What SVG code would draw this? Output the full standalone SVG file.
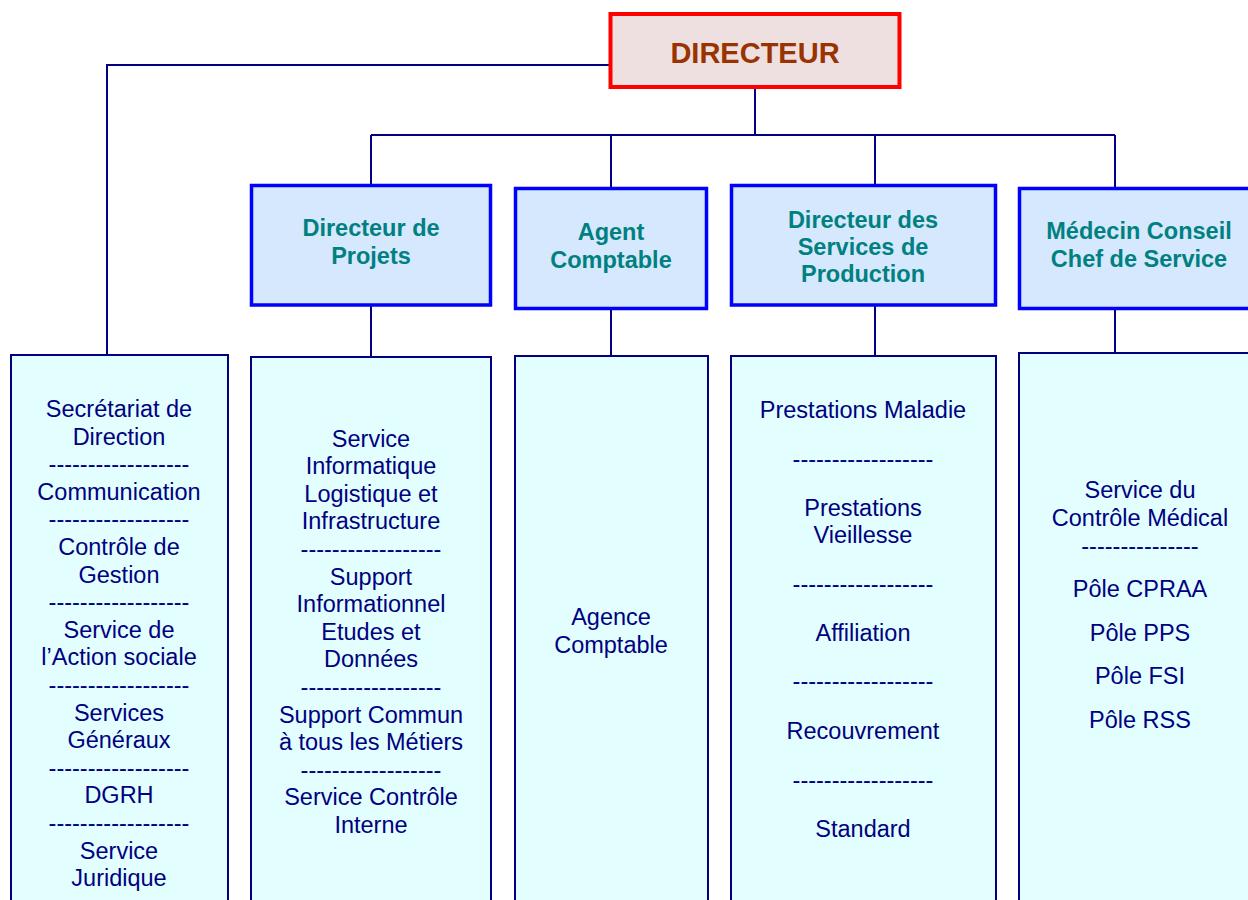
<svg xmlns="http://www.w3.org/2000/svg" width="1248" height="900" viewBox="0 0 1248 900">
<style>
.conn{stroke:#000080;stroke-width:2;fill:none}
.head{fill:#D5E8FD;stroke:#0000FF;stroke-width:3.5}
.body{fill:#E2FEFE;stroke:#000080;stroke-width:2}
.ht{font-family:"Liberation Sans",Arial,sans-serif;font-weight:bold;font-size:23.5px;fill:#008080;text-anchor:middle}
.bt{font-family:"Liberation Sans",Arial,sans-serif;font-size:23.5px;fill:#000080;text-anchor:middle}
</style>
<rect width="1248" height="900" fill="#FFFFFF"/>
<g id="connectors">
<polyline class="conn" points="610,65 107,65 107,355"/>
<line class="conn" x1="755" y1="88" x2="755" y2="135"/>
<line class="conn" x1="371" y1="135" x2="1115" y2="135"/>
<line class="conn" x1="371" y1="135" x2="371" y2="184"/>
<line class="conn" x1="611" y1="135" x2="611" y2="187"/>
<line class="conn" x1="875" y1="135" x2="875" y2="184"/>
<line class="conn" x1="1115" y1="135" x2="1115" y2="187"/>
<line class="conn" x1="371" y1="306" x2="371" y2="357"/>
<line class="conn" x1="611" y1="310" x2="611" y2="356"/>
<line class="conn" x1="875" y1="306" x2="875" y2="356"/>
<line class="conn" x1="1115" y1="310" x2="1115" y2="353"/>
</g>
<g id="directeur">
<rect x="610.5" y="14" width="289" height="73" fill="#EEE0E0" stroke="#FF0000" stroke-width="4"/>
<text x="755" y="62.5" font-family="'Liberation Sans',Arial,sans-serif" font-weight="bold" font-size="29" fill="#993300" text-anchor="middle">DIRECTEUR</text>
</g>
<g id="dir-projets">
<rect class="head" x="251.5" y="185.5" width="239" height="119.5"/>
<text class="ht" x="371" y="235.5">Directeur de</text>
<text class="ht" x="371" y="263.5">Projets</text>
</g>
<g id="agent-comptable">
<rect class="head" x="515.5" y="188.5" width="191" height="120"/>
<text class="ht" x="611" y="239.5">Agent</text>
<text class="ht" x="611" y="267.5">Comptable</text>
</g>
<g id="dir-production">
<rect class="head" x="731.5" y="185.5" width="264" height="119.5"/>
<text class="ht" x="863" y="227.5">Directeur des</text>
<text class="ht" x="863" y="254.5">Services de</text>
<text class="ht" x="863" y="281.5">Production</text>
</g>
<g id="medecin-conseil">
<rect class="head" x="1019.5" y="188.5" width="242" height="120"/>
<text class="ht" x="1139" y="238.5">Médecin Conseil</text>
<text class="ht" x="1139" y="266.5">Chef de Service</text>
</g>
<g id="services-direction">
<rect class="body" x="11" y="355" width="217" height="560"/>
<text class="bt" x="119" y="417">Secrétariat de</text>
<text class="bt" x="119" y="444.6">Direction</text>
<text class="bt" x="119" y="472.2">------------------</text>
<text class="bt" x="119" y="499.8">Communication</text>
<text class="bt" x="119" y="527.4">------------------</text>
<text class="bt" x="119" y="555">Contrôle de</text>
<text class="bt" x="119" y="582.6">Gestion</text>
<text class="bt" x="119" y="610.2">------------------</text>
<text class="bt" x="119" y="637.8">Service de</text>
<text class="bt" x="119" y="665.4">l’Action sociale</text>
<text class="bt" x="119" y="693">------------------</text>
<text class="bt" x="119" y="720.6">Services</text>
<text class="bt" x="119" y="748.2">Généraux</text>
<text class="bt" x="119" y="775.8">------------------</text>
<text class="bt" x="119" y="803.4">DGRH</text>
<text class="bt" x="119" y="831">------------------</text>
<text class="bt" x="119" y="858.6">Service</text>
<text class="bt" x="119" y="886.2">Juridique</text>
</g>
<g id="services-projets">
<rect class="body" x="251" y="357" width="240" height="560"/>
<text class="bt" x="371" y="446.5">Service</text>
<text class="bt" x="371" y="474.1">Informatique</text>
<text class="bt" x="371" y="501.7">Logistique et</text>
<text class="bt" x="371" y="529.3">Infrastructure</text>
<text class="bt" x="371" y="556.9">------------------</text>
<text class="bt" x="371" y="584.5">Support</text>
<text class="bt" x="371" y="612.1">Informationnel</text>
<text class="bt" x="371" y="639.7">Etudes et</text>
<text class="bt" x="371" y="667.3">Données</text>
<text class="bt" x="371" y="694.9">------------------</text>
<text class="bt" x="371" y="722.5">Support Commun</text>
<text class="bt" x="371" y="750.1">à tous les Métiers</text>
<text class="bt" x="371" y="777.7">------------------</text>
<text class="bt" x="371" y="805.3">Service Contrôle</text>
<text class="bt" x="371" y="832.9">Interne</text>
</g>
<g id="agence-comptable">
<rect class="body" x="515" y="356" width="193" height="560"/>
<text class="bt" x="611" y="624.5">Agence</text>
<text class="bt" x="611" y="652.5">Comptable</text>
</g>
<g id="services-production">
<rect class="body" x="731" y="356" width="265" height="560"/>
<text class="bt" x="863" y="417.5">Prestations Maladie</text>
<text class="bt" x="863" y="466.5">------------------</text>
<text class="bt" x="863" y="515.5">Prestations</text>
<text class="bt" x="863" y="542.5">Vieillesse</text>
<text class="bt" x="863" y="591.5">------------------</text>
<text class="bt" x="863" y="640.5">Affiliation</text>
<text class="bt" x="863" y="688.5">------------------</text>
<text class="bt" x="863" y="738.5">Recouvrement</text>
<text class="bt" x="863" y="787.5">------------------</text>
<text class="bt" x="863" y="836.5">Standard</text>
</g>
<g id="controle-medical">
<rect class="body" x="1019" y="353" width="242" height="560"/>
<text class="bt" x="1140" y="497.5">Service du</text>
<text class="bt" x="1140" y="525.5">Contrôle Médical</text>
<text class="bt" x="1140" y="553.5">---------------</text>
<text class="bt" x="1140" y="596.5">Pôle CPRAA</text>
<text class="bt" x="1140" y="640.5">Pôle PPS</text>
<text class="bt" x="1140" y="683.5">Pôle FSI</text>
<text class="bt" x="1140" y="727.5">Pôle RSS</text>
</g>
</svg>
